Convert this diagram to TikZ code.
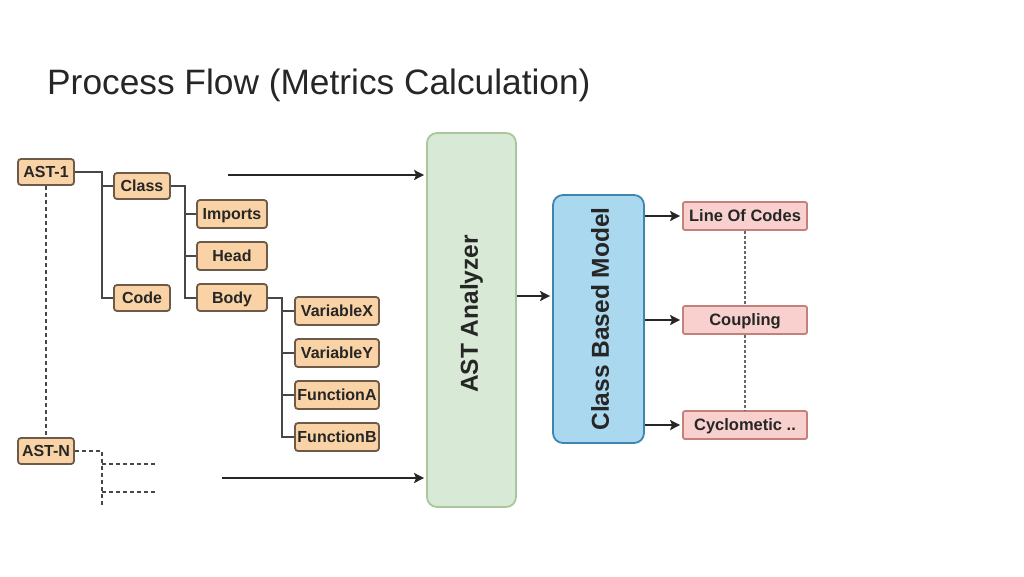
\documentclass[tikz,border=0pt]{standalone}
\usepackage{fontspec}
\setmainfont{Liberation Sans}
\usetikzlibrary{arrows.meta}
\definecolor{orfill}{HTML}{F9D3A6}
\definecolor{ordraw}{HTML}{6E5A48}
\definecolor{grfill}{HTML}{D8EAD5}
\definecolor{grdraw}{HTML}{A9C79C}
\definecolor{blfill}{HTML}{AAD8EF}
\definecolor{bldraw}{HTML}{3F86AE}
\definecolor{rdfill}{HTML}{F8D0CE}
\definecolor{rddraw}{HTML}{C4817C}
\definecolor{ink}{HTML}{262626}
\tikzset{
  leaf/.style={draw=ordraw, fill=orfill, rounded corners=3pt, line width=1.8pt,
    minimum height=26pt, inner sep=0pt, text=ink, text height=11.5pt, text depth=0pt,
    font=\fontsize{16}{16}\selectfont\bfseries},
  metric/.style={draw=rddraw, fill=rdfill, rounded corners=2pt, line width=1.8pt,
    minimum width=124pt, minimum height=28pt, inner sep=0pt, text=ink,
    text height=11.8pt, text depth=0pt,
    font=\fontsize{16.5}{16.5}\selectfont\bfseries},
  tree/.style={draw=ink!85, line width=2pt},
  dashtree/.style={draw=ink!85, line width=2pt, dash pattern=on 4pt off 3pt},
  arr/.style={draw=ink, line width=2pt, shorten >=2pt, -{Stealth[length=10pt,width=10pt,inset=2pt]}},
  dotline/.style={draw=ink!70, line width=1.4pt, dash pattern=on 3pt off 2pt},
  bigtext/.style={text=ink, font=\fontsize{24.5}{24.5}\selectfont\bfseries, rotate=90, inner sep=0pt}
}
\begin{document}
\begin{tikzpicture}[x=1pt,y=-1pt]
\useasboundingbox (0,0) rectangle (1024,576);

\node[anchor=base west, inner sep=0pt, text=ink, font=\fontsize{35.3}{35.3}\selectfont] (title) at (47,94) {Process Flow (Metrics Calculation)};

% left tree
\node[leaf, minimum width=56pt] (ast1) at (46,172) {AST-1};
\node[leaf, minimum width=56pt] (class) at (142,186) {Class};
\node[leaf, minimum width=56pt] (code) at (142,298) {Code};
\node[leaf, minimum width=70pt, minimum height=28pt] (imports) at (232,214) {Imports};
\node[leaf, minimum width=70pt, minimum height=28pt] (head) at (232,256) {Head};
\node[leaf, minimum width=70pt, minimum height=27pt] (body) at (232,297.5) {Body};
\node[leaf, minimum width=84pt, minimum height=28pt] (vx) at (337,311) {VariableX};
\node[leaf, minimum width=84pt, minimum height=28pt] (vy) at (337,353) {VariableY};
\node[leaf, minimum width=84pt, minimum height=28pt] (fa) at (337,395) {FunctionA};
\node[leaf, minimum width=84pt, minimum height=28pt] (fb) at (337,437) {FunctionB};
\node[leaf, minimum width=56pt] (astn) at (46,451) {AST-N};

\draw[tree] (ast1.east) -- ++(27,0) coordinate (t1) |- (code.west);
\draw[tree] (t1 |- class.west) -- (class.west);
\draw[tree] (class.east) -- ++(14,0) coordinate (t2) |- (body.west);
\draw[tree] (t2 |- imports.west) -- (imports.west);
\draw[tree] (t2 |- head.west) -- (head.west);
\draw[tree] (body.east) -- ++(14,0) coordinate (t3) |- (fb.west);
\draw[tree] (t3 |- vx.west) -- (vx.west);
\draw[tree] (t3 |- vy.west) -- (vy.west);
\draw[tree] (t3 |- fa.west) -- (fa.west);

\draw[dashtree] (ast1.south) -- (astn.north);
\draw[dashtree] (astn.east) -- ++(27,0) coordinate (t4) -- ++(0,55);
\coordinate (e1) at ([yshift=-13pt]t4);
\coordinate (e2) at ([yshift=-41pt]t4);
\draw[dashtree] (e1) -- ++(55,0);
\draw[dashtree] (e2) -- ++(55,0);

% analyzer
\node[draw=grdraw, fill=grfill, line width=1.8pt, rounded corners=10pt,
      minimum width=89pt, minimum height=374pt, inner sep=0pt] (ana) at (471.5,320) {};
\node[bigtext] (anatext) at ([yshift=6pt]ana.center) {AST Analyzer};

\coordinate (in1) at (228,175);
\coordinate (in2) at (222,478);
\draw[arr] (in1) -- (in1 -| ana.west);
\draw[arr] (in2) -- (in2 -| ana.west);

% class based model
\node[draw=bldraw, fill=blfill, line width=1.8pt, rounded corners=10pt,
      minimum width=91pt, minimum height=248pt, inner sep=0pt] (cbm) at (598.5,319) {};
\node[bigtext] (cbmtext) at ([xshift=1.5pt]cbm.center) {Class Based Model};

\draw[arr] ([yshift=24pt]ana.east) -- ([yshift=24pt]ana.east -| cbm.west);

% metrics
\node[metric] (loc) at (745,216) {Line Of Codes};
\node[metric] (coup) at (745,320) {Coupling};
\node[metric] (cyc) at (745,425) {Cyclometic ..};

\draw[arr] (cbm.east |- loc.west) -- (loc.west);
\draw[arr] (cbm.east |- coup.west) -- (coup.west);
\draw[arr] (cbm.east |- cyc.west) -- (cyc.west);

\draw[dotline] (loc.south) -- (coup.north);
\draw[dotline] (coup.south) -- (cyc.north);
\end{tikzpicture}
\end{document}
